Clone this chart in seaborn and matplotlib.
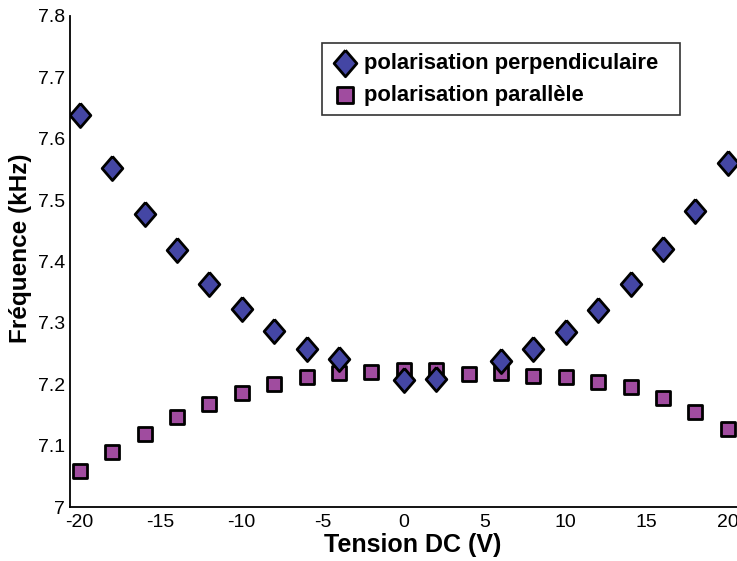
import numpy as np
import pandas as pd
import matplotlib
matplotlib.use("Agg")
import matplotlib.pyplot as plt
import seaborn as sns
from matplotlib.patches import Rectangle
from matplotlib.ticker import FuncFormatter

# Tension DC (V)
tension = [-20, -18, -16, -14, -12, -10, -8, -6, -4, -2, 0, 2, 4, 6, 8, 10, 12, 14, 16, 18, 20]

# Fréquence (kHz), polarisation perpendiculaire (no measurement at -2 V and 4 V)
freq_perp = [7.638, 7.552, 7.478, 7.419, 7.364, 7.322, 7.286, 7.258, 7.241, np.nan,
             7.207, 7.208, np.nan, 7.238, 7.258, 7.285, 7.321, 7.364, 7.420, 7.483, 7.560]

# Fréquence (kHz), polarisation parallèle
freq_par = [7.059, 7.090, 7.119, 7.146, 7.168, 7.185, 7.200, 7.211, 7.219, 7.220,
            7.223, 7.223, 7.216, 7.218, 7.214, 7.211, 7.204, 7.195, 7.177, 7.155, 7.127]

label_perp = "polarisation perpendiculaire"
label_par = "polarisation parallèle"

x_ticks = [-20, -15, -10, -5, 0, 5, 10, 15, 20]
y_ticks = [7.0, 7.1, 7.2, 7.3, 7.4, 7.5, 7.6, 7.7, 7.8]

sns.set_style("white")
plt.rcParams["font.family"] = ["Liberation Sans", "DejaVu Sans"]
plt.rcParams["axes.unicode_minus"] = False
plt.rcParams["text.color"] = "black"
plt.rcParams["axes.labelcolor"] = "black"

df_perp = pd.DataFrame({"tension": tension, "freq": freq_perp}).dropna()
df_par = pd.DataFrame({"tension": tension, "freq": freq_par})

fig = plt.figure(figsize=(7.37, 5.61), dpi=100)
ax = fig.add_axes([70 / 737, 54 / 561, 674 / 737, 491 / 561])

# slightly tall diamond
diamond = [(0, 1), (0.86, 0), (0, -1), (-0.86, 0), (0, 1)]

sns.scatterplot(data=df_par, x="tension", y="freq", ax=ax, marker="s", s=115,
                color="#A04C9F", edgecolor="black", linewidth=2.0,
                label=label_par, zorder=3)
sns.scatterplot(data=df_perp, x="tension", y="freq", ax=ax, marker=diamond, s=300,
                color="#4446A4", edgecolor="black", linewidth=2.0,
                label=label_perp, zorder=4)

ax.set_xlim(-20.6, 21.0)
ax.set_ylim(7.0, 7.8)
ax.set_xticks(x_ticks)
ax.set_yticks(y_ticks)
ax.yaxis.set_major_formatter(FuncFormatter(lambda v, p: f"{v:g}"))
ax.xaxis.set_major_formatter(FuncFormatter(lambda v, p: f"{v:g}"))

for side in ("top", "right"):
    ax.spines[side].set_visible(False)
for side in ("left", "bottom"):
    ax.spines[side].set_color("black")
    ax.spines[side].set_linewidth(1.3)

ax.tick_params(axis="both", direction="in", length=4, width=1, color="#888888",
               labelsize=14, labelcolor="black")
ax.tick_params(axis="y", pad=3.5)
ax.tick_params(axis="x", pad=5)

ax.set_xlabel("Tension DC (V)", fontsize=18, fontweight="bold")
ax.set_ylabel("Fréquence (kHz)", fontsize=17.5, fontweight="bold")
ax.xaxis.set_label_coords(0.509, -0.052, transform=ax.transAxes)
ax.xaxis.label.set_va("top")
ax.yaxis.set_label_coords(-0.056, 0.527, transform=ax.transAxes)

handles, labels = ax.get_legend_handles_labels()
order = [labels.index(label_perp), labels.index(label_par)]
leg = ax.legend([handles[i] for i in order], [labels[i] for i in order],
                loc="upper left", bbox_to_anchor=(322 / 737, 1 - 43 / 561),
                bbox_transform=fig.transFigure, frameon=False, borderpad=0.45,
                handletextpad=0.25, labelspacing=0.5, borderaxespad=0,
                handlelength=1.2, markerscale=1.1,
                prop={"size": 15.8, "weight": "bold"})

# legend frame, a little wider than the entries on the right
fig.patches.append(Rectangle((322 / 737, 1 - 115 / 561), 358 / 737, 72 / 561,
                             transform=fig.transFigure, fill=False,
                             edgecolor="#333333", linewidth=1.2, zorder=10))

fig.savefig("out.png", dpi=100)
